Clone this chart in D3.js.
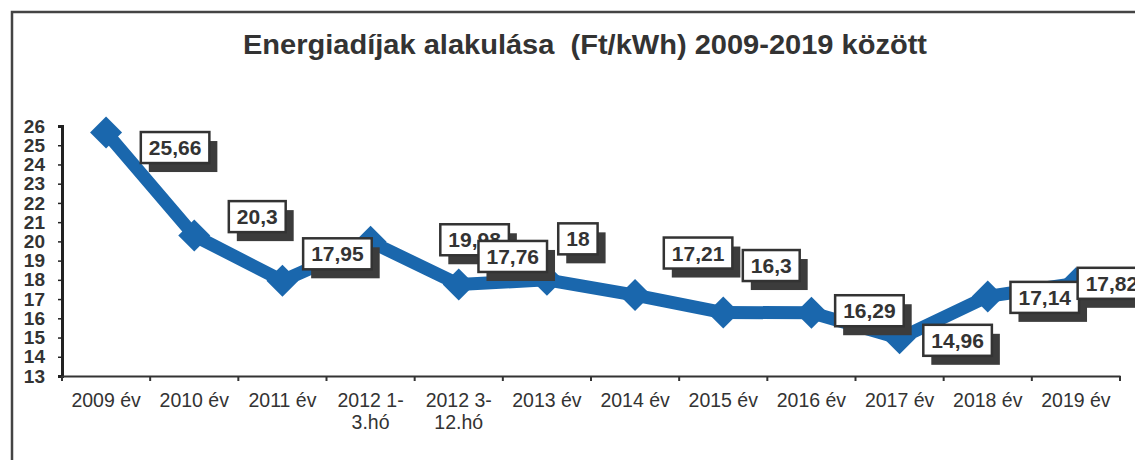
<!DOCTYPE html>
<html>
<head>
<meta charset="utf-8">
<script src="https://cdn.jsdelivr.net/npm/d3@7/dist/d3.min.js"></script>
<style>
  html, body { margin: 0; padding: 0; background: #fff; }
  svg { display: block; font-family: "Liberation Sans", Arial, sans-serif; }
</style>
</head>
<body>
<svg id="chart" width="1135" height="460"></svg>
<script>
// ---- data ----
const categories = ["2009 év", "2010 év", "2011 év", "2012 1-|3.hó", "2012 3-|12.hó", "2013 év",
                    "2014 év", "2015 év", "2016 év", "2017 év", "2018 év", "2019 év"];
const values = [25.66, 20.3, 17.95, 19.98, 17.76, 18, 17.21, 16.3, 16.29, 14.96, 17.14, 17.82];
const yTicks = [13, 14, 15, 16, 17, 18, 19, 20, 21, 22, 23, 24, 25, 26];
const title = "Energiadíjak alakulása  (Ft/kWh) 2009-2019 között";

// ---- layout (label placement relative to each point, px) ----
const labelDx = [69, 63, 55, 104, 54, 31, 63, 48, 58, 58, 57, 36];
const labelDy = [15, -19, -27, -2, -28, -41, -42, -47, -2, 2, 1, 0];

const svg = d3.select("#chart");
const W = 1135, H = 460;
const mLeft = 62, mRight = 1120, mTop = 126, mBottom = 376;
const blue = "#1a67ad", ink = "#333";

// frame
svg.append("path")
  .attr("d", `M12,${H} L12,12 L${W},12`)
  .attr("fill", "none").attr("stroke", "#444").attr("stroke-width", 2.5);

// title
svg.append("text")
  .attr("x", 243).attr("y", 54)
  .attr("font-size", 28).attr("font-weight", "bold").attr("fill", ink)
  .attr("textLength", 684).attr("lengthAdjust", "spacingAndGlyphs")
  .style("white-space", "pre")
  .text(title);

const x = d3.scaleBand().domain(categories).range([mLeft, mRight]).padding(0);
const y = d3.scaleLinear().domain([13, 26]).range([mBottom, mTop]);

// y axis
const yAxis = svg.append("g").attr("transform", `translate(${mLeft},0)`)
  .call(d3.axisLeft(y).tickValues(yTicks).tickSize(4).tickPadding(13).tickFormat(d3.format("d")));
yAxis.select(".domain").attr("stroke", "#222").attr("stroke-width", 3);
yAxis.selectAll(".tick line").attr("stroke", "#222").attr("stroke-width", 1.5);
yAxis.selectAll(".tick text").attr("font-size", 19).attr("font-weight", "bold")
  .attr("fill", ink).attr("font-family", "Liberation Sans, Arial, sans-serif");

// x axis
const xAxis = svg.append("g").attr("transform", `translate(0,${mBottom})`)
  .call(d3.axisBottom(x).tickSize(0).tickSizeOuter(0).tickFormat(""));
xAxis.select(".domain").attr("stroke", "#333").attr("stroke-width", 2);
xAxis.selectAll(".tick").remove();

const bounds = categories.map(c => x(c)).concat([x(categories[categories.length - 1]) + x.bandwidth()]);
svg.append("g").selectAll("line").data(bounds).join("line")
  .attr("x1", d => d).attr("x2", d => d)
  .attr("y1", mBottom).attr("y2", mBottom + 5)
  .attr("stroke", "#333").attr("stroke-width", 2);

const xl = svg.append("g").selectAll("text").data(categories).join("text")
  .attr("x", d => x(d) + x.bandwidth() / 2)
  .attr("y", 407)
  .attr("text-anchor", "middle")
  .attr("font-size", 19.5).attr("fill", ink);
xl.each(function(d) {
  const parts = d.split("|");
  const t = d3.select(this);
  parts.forEach((p, i) => {
    t.append("tspan").attr("x", x(d) + x.bandwidth() / 2).attr("dy", i === 0 ? 0 : 22).text(p);
  });
});

// line
const pts = categories.map((c, i) => ({ c, v: values[i], i }));
const cx = d => x(d.c) + x.bandwidth() / 2;
svg.append("path")
  .datum(pts)
  .attr("d", d3.line().x(cx).y(d => y(d.v)))
  .attr("fill", "none").attr("stroke", blue).attr("stroke-width", 13)
  .attr("stroke-linejoin", "round");

// diamond markers
svg.append("g").selectAll("path").data(pts).join("path")
  .attr("transform", d => `translate(${cx(d)},${y(d.v)})`)
  .attr("d", "M0,-16 L16,0 L0,16 L-16,0 Z")
  .attr("fill", blue);

// labels
const lg = svg.append("g");
pts.forEach(d => {
  const g = lg.append("g")
    .attr("transform", `translate(${cx(d) + labelDx[d.i]},${y(d.v) + labelDy[d.i]})`);
  const shadow = g.append("rect");
  const box = g.append("rect");
  const txt = g.append("text")
    .attr("text-anchor", "middle").attr("dy", "0.36em")
    .attr("font-size", 21).attr("font-weight", "bold").attr("fill", ink)
    .text(String(d.v).replace(".", ","));
  const tw = txt.node().getComputedTextLength();
  const bw = tw + 16, bh = 31;
  shadow.attr("x", -bw / 2 + 8).attr("y", -bh / 2 + 9).attr("width", bw).attr("height", bh)
    .attr("fill", "#3c3c3c");
  box.attr("x", -bw / 2).attr("y", -bh / 2).attr("width", bw).attr("height", bh)
    .attr("fill", "#fff").attr("stroke", "#333").attr("stroke-width", 2.5);
});
</script>
</body>
</html>
